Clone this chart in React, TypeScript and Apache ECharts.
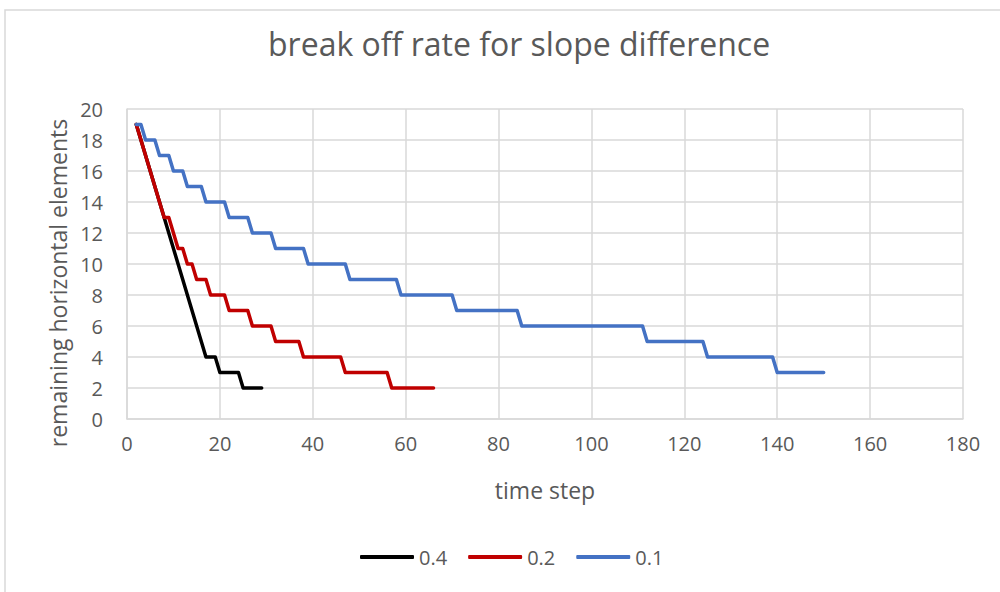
import React, { useEffect, useRef } from "react";
import * as echarts from "echarts";

const chartTitle = "break off rate for slope difference";
const xAxisName = "time step";
const yAxisName = "remaining horizontal elements";
const seriesNames = ["0.4", "0.2", "0.1"];
const seriesColors = ["#000000", "#C00000", "#4472C4"];

// vertices (time step, remaining elements)
const time04 = [2, 17, 19, 20, 24, 25, 29];
const value04 = [19, 4, 4, 3, 3, 2, 2];

const time02 = [2, 8, 9, 11, 12, 13, 14, 15, 17, 18, 21, 22, 26, 27, 31, 32, 37, 38, 46, 47, 56, 57, 66];
const value02 = [19, 13, 13, 11, 11, 10, 10, 9, 9, 8, 8, 7, 7, 6, 6, 5, 5, 4, 4, 3, 3, 2, 2];

const time01 = [2, 3, 4, 6, 7, 9, 10, 12, 13, 16, 17, 21, 22, 26, 27, 31, 32, 38, 39, 47, 48, 58, 59, 70, 71, 84, 85, 111, 112, 124, 125, 139, 140, 150];
const value01 = [19, 19, 18, 18, 17, 17, 16, 16, 15, 15, 14, 14, 13, 13, 12, 12, 11, 11, 10, 10, 9, 9, 8, 8, 7, 7, 6, 6, 5, 5, 4, 4, 3, 3];

const FONT = "'Open Sans', 'Noto Sans', sans-serif";
const TEXT = "#595959";
const GRID = "#d9d9d9";

export default function App() {
  const ref = useRef<HTMLDivElement>(null);
  useEffect(() => {
    if (!ref.current) return;
    const chart = echarts.init(ref.current, null, { renderer: "svg" });
    const pairs = (t: number[], v: number[]) => t.map((x, i) => [x, v[i]]);
    const datasets = [pairs(time04, value04), pairs(time02, value02), pairs(time01, value01)];
    chart.setOption({
      animation: false,
      backgroundColor: "#ffffff",
      textStyle: { fontFamily: FONT },
      title: {
        text: chartTitle,
        left: 263,
        top: 22,
        padding: 5,
        textStyle: { fontFamily: FONT, fontSize: 32, fontWeight: "normal", color: TEXT },
      },
      graphic: [
        {
          type: "rect",
          shape: { x: 5, y: 10, width: 1100, height: 700 },
          style: { fill: "none", stroke: GRID, lineWidth: 1.5 },
          silent: true,
        },
      ],
      legend: {
        left: 360,
        top: 547,
        padding: 0,
        itemGap: 21,
        itemWidth: 54,
        itemHeight: 4,
        icon: "roundRect",
        data: seriesNames,
        textStyle: { fontFamily: FONT, fontSize: 20, color: TEXT },
      },
      grid: { left: 127, right: 37, top: 109, bottom: 173, containLabel: false },
      xAxis: {
        type: "value",
        min: 0,
        max: 180,
        interval: 20,
        name: xAxisName,
        nameLocation: "middle",
        nameGap: 59,
        nameTextStyle: { fontFamily: FONT, fontSize: 23, color: TEXT },
        axisLine: { show: true, lineStyle: { color: GRID, width: 1.5 } },
        axisTick: { show: false },
        axisLabel: { margin: 14, fontFamily: FONT, fontSize: 20, color: TEXT },
        splitLine: { show: true, lineStyle: { color: GRID, width: 1.5 } },
      },
      yAxis: {
        type: "value",
        min: 0,
        max: 20,
        interval: 2,
        name: yAxisName,
        nameLocation: "middle",
        nameGap: 57,
        nameTextStyle: { fontFamily: FONT, fontSize: 23, color: TEXT, padding: [0, 38, 0, 0] },
        axisLine: { show: true, lineStyle: { color: GRID, width: 1.5 } },
        axisTick: { show: false },
        axisLabel: { margin: 24, fontFamily: FONT, fontSize: 20, color: TEXT },
        splitLine: { show: true, lineStyle: { color: GRID, width: 1.5 } },
      },
      series: seriesNames.map((name, i) => ({
        name,
        type: "line",
        data: datasets[i],
        symbol: "none",
        showSymbol: false,
        color: seriesColors[i],
        lineStyle: { color: seriesColors[i], width: 3.5, cap: "round", join: "round" },
        z: 2 + i,
      })),
    });
    return () => chart.dispose();
  }, []);
  return (
    <div
      ref={ref}
      style={{ position: "fixed", left: 0, top: 0, width: 1000, height: 592, background: "#fff" }}
    />
  );
}
